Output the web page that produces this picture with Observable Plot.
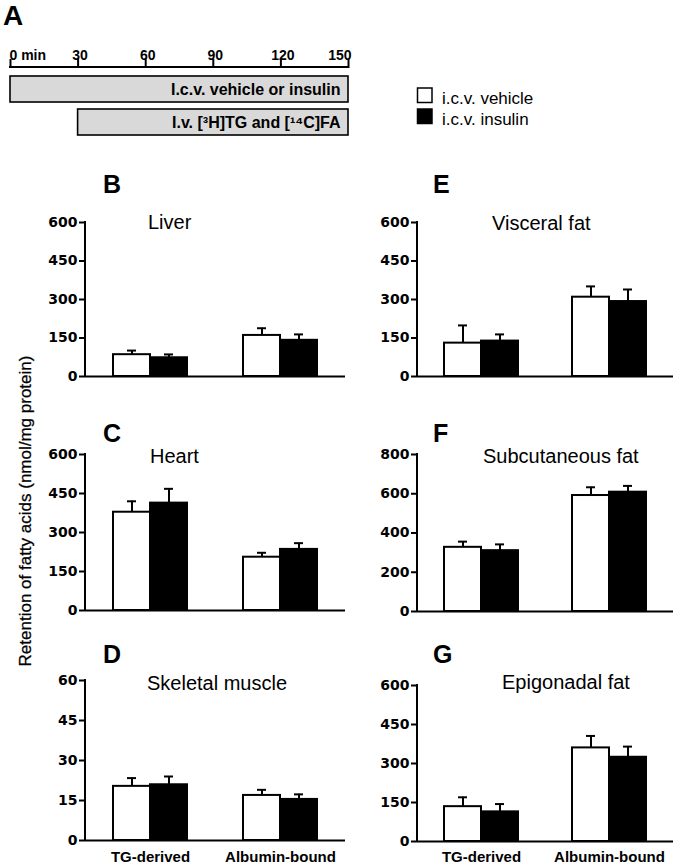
<!DOCTYPE html>
<html>
<head>
<meta charset="utf-8">
<script src="https://cdn.jsdelivr.net/npm/d3@7"></script>
<script src="https://cdn.jsdelivr.net/npm/@observablehq/plot@0.6"></script>
<style>
  body { margin: 0; background: #fff; }
  #fig { position: relative; width: 680px; height: 866px; overflow: hidden; background: #fff;
         font-family: "Liberation Sans", Arial, sans-serif; color: #000; }
  .pp { position: absolute; }
  .pp svg { overflow: visible; }
</style>
</head>
<body>
<div id="fig"></div>
<script>
// ---------- data ----------
const groups = ["TG-derived", "Albumin-bound"];
const treatments = ["i.c.v. vehicle", "i.c.v. insulin"];
// order inside each array: [TG vehicle, TG insulin, Albumin vehicle, Albumin insulin]
const liverMean = [85, 73, 160, 141];
const liverSem = [16, 13, 28, 23];
const heartMean = [378, 413, 205, 235];
const heartSem = [42, 55, 17, 24];
const muscleMean = [20.3, 20.9, 16.9, 15.4];
const muscleSem = [3.1, 3.1, 2.1, 1.9];
const visceralMean = [130, 138, 309, 292];
const visceralSem = [69, 26, 42, 47];
const subcutMean = [327, 310, 591, 608];
const subcutSem = [29, 32, 42, 32];
const epigonadalMean = [134, 114, 360, 324];
const epigonadalSem = [36, 30, 46, 41];

const ticks600 = [0, 150, 300, 450, 600];
const ticks800 = [0, 200, 400, 600, 800];
const ticks60 = [0, 15, 30, 45, 60];

const timeTicks = [0, 30, 60, 90, 120, 150];
const infusionLabels = ["I.c.v. vehicle or insulin", "I.v. [\u00B3H]TG and [\u00B9\u2074C]FA"];
const infusionStart = [0, 30];
const infusionEnd = [150, 150];

const yLabel = "Retention of fatty acids (nmol/mg protein)";

// ---------- layout ----------
const fig = document.getElementById("fig");
const FONT = '"Liberation Sans", Arial, sans-serif';

function rowsOf(mean, sem) {
  return mean.map((m, i) => ({group: groups[Math.floor(i / 2)], treatment: treatments[i % 2], mean: m, sem: sem[i]}));
}

const panels = [
  {letter: "B", title: "Liver", mean: liverMean, sem: liverSem, max: 600, ticks: ticks600, col: 0, yTop: 222, yBot: 376, tx: 148, ty: 229, ly: 193},
  {letter: "C", title: "Heart", mean: heartMean, sem: heartSem, max: 600, ticks: ticks600, col: 0, yTop: 454, yBot: 610, tx: 150, ty: 463, ly: 442},
  {letter: "D", title: "Skeletal muscle", mean: muscleMean, sem: muscleSem, max: 60, ticks: ticks60, col: 0, yTop: 680, yBot: 840, tx: 147, ty: 690, ly: 663, bottom: true},
  {letter: "E", title: "Visceral fat", mean: visceralMean, sem: visceralSem, max: 600, ticks: ticks600, col: 1, yTop: 222, yBot: 376, tx: 492, ty: 230, ly: 193},
  {letter: "F", title: "Subcutaneous fat", mean: subcutMean, sem: subcutSem, max: 800, ticks: ticks800, col: 1, yTop: 454, yBot: 611, tx: 483, ty: 463, ly: 442},
  {letter: "G", title: "Epigonadal fat", mean: epigonadalMean, sem: epigonadalSem, max: 600, ticks: ticks600, col: 1, yTop: 685, yBot: 841, tx: 502, ty: 689, ly: 663, bottom: true}
];

function place(node, left, top) {
  const d = document.createElement("div");
  d.className = "pp";
  d.style.left = left + "px";
  d.style.top = top + "px";
  d.appendChild(node);
  fig.appendChild(d);
}

// ---------- panel A: timeline ----------
{
  const rows = infusionLabels.map((l, i) => ({label: l, start: infusionStart[i], end: infusionEnd[i]}));
  const mt = 37, top = 30;
  const tickText = {frameAnchor: "top", dy: -17, fontSize: 14, fontWeight: "bold", fill: "#000"};
  const chart = Plot.plot({
    width: 360, height: 117, marginLeft: 10, marginRight: 12, marginTop: mt, marginBottom: 2,
    style: {fontFamily: FONT, background: "transparent"},
    x: {domain: [0, 150], axis: null},
    y: {domain: infusionLabels, paddingInner: 0.2, paddingOuter: 0.27, axis: null},
    marks: [
      Plot.barX(rows, {x1: "start", x2: "end", y: "label", fill: "#d9d9d9", stroke: "#000", strokeWidth: 1.6}),
      Plot.text(rows, {x: "end", y: "label", text: "label", textAnchor: "end", dx: -8, fontSize: 16, fontWeight: "bold", fill: "#000"}),
      Plot.axisX({anchor: "top", ticks: timeTicks, tickSize: 9, strokeWidth: 2, stroke: "#000", tickFormat: () => "", label: null}),
      Plot.text(timeTicks.slice(0, 1), {...tickText, x: d => d, text: d => d + " min", textAnchor: "start", dx: -1}),
      Plot.text(timeTicks.slice(1, -1), {...tickText, x: d => d, text: d => String(d), textAnchor: "middle", dx: 2}),
      Plot.text(timeTicks.slice(-1), {...tickText, x: d => d, text: d => String(d), textAnchor: "end", dx: 3})
    ]
  });
  const x = chart.scale("x");
  d3.select(chart).append("line")
    .attr("x1", x.apply(timeTicks[0]) - 1).attr("x2", x.apply(timeTicks[timeTicks.length - 1]) + 1)
    .attr("y1", mt).attr("y2", mt).attr("stroke", "#000").attr("stroke-width", 2);
  place(chart, 0, top);
}

// ---------- bar panels ----------
for (const p of panels) {
  const L = p.col === 0 ? {left: 0, width: 345, ml: 85} : {left: 340, width: 333, ml: 77};
  const mt = 12;
  const mb = p.bottom ? (866 - p.yBot) : 4;
  const h = (p.yBot - p.yTop) + mt + mb;
  const rows = rowsOf(p.mean, p.sem);
  const marks = [
    Plot.barY(rows, {fx: "group", x: "treatment", y: "mean", fill: "treatment", stroke: "#000", strokeWidth: 2}),
    Plot.ruleX(rows, {fx: "group", x: "treatment", y1: "mean", y2: d => d.mean + d.sem, stroke: "#000", strokeWidth: 2}),
    Plot.tickY(rows, {fx: "group", x: "treatment", y: d => d.mean + d.sem, stroke: "#000", strokeWidth: 2, insetLeft: 14, insetRight: 14}),
    Plot.ruleY([0], {stroke: "#000", strokeWidth: 2}),
    Plot.axisY({ticks: p.ticks, tickSize: 6, tickPadding: 2, strokeWidth: 2, stroke: "#000", fill: "#000",
                fontSize: 14, fontWeight: "bold", fontFamily: "DejaVu Sans", label: null, tickFormat: d => String(d)})
  ];
  if (p.bottom) {
    marks.push(Plot.axisFx({anchor: "bottom", tickSize: 0, tickPadding: 861 - 10.6 - p.yBot, fontSize: 15, fontWeight: "bold", fill: "#000", label: null}));
  }
  const chart = Plot.plot({
    width: L.width, height: h, marginLeft: L.ml, marginRight: 0, marginTop: mt, marginBottom: mb,
    style: {fontFamily: FONT, background: "transparent"},
    fx: p.bottom ? {domain: groups, padding: 0, label: null} : {domain: groups, padding: 0, axis: null, label: null},
    x: {domain: treatments, paddingInner: 0, paddingOuter: 0.72, axis: null},
    y: {domain: [0, p.max], label: null},
    color: {type: "ordinal", domain: treatments, range: ["#ffffff", "#000000"]},
    marks
  });
  const y = chart.scale("y");
  d3.select(chart).append("line")
    .attr("x1", L.ml).attr("x2", L.ml)
    .attr("y1", y.apply(p.max) - 1).attr("y2", y.apply(0) + 1)
    .attr("stroke", "#000").attr("stroke-width", 2);
  place(chart, L.left, p.yTop - mt);
}

// ---------- annotations (letters, titles, y label, legend) ----------
const ov = d3.select(fig).append("svg")
  .attr("width", 680).attr("height", 866)
  .style("position", "absolute").style("left", "0px").style("top", "0px")
  .style("pointer-events", "none")
  .style("font-family", FONT);

ov.append("text").attr("x", 3).attr("y", 25).attr("font-size", 28).attr("font-weight", "bold").text("A");

for (const p of panels) {
  const lx = p.col === 0 ? 103 : 433;
  ov.append("text").attr("x", lx).attr("y", p.ly).attr("font-size", 25).attr("font-weight", "bold").text(p.letter);
  ov.append("text").attr("x", p.tx).attr("y", p.ty).attr("font-size", 20).text(p.title);
}

ov.append("text")
  .attr("transform", "translate(31,511) rotate(-90)")
  .attr("text-anchor", "middle").attr("font-size", 17)
  .attr("stroke", "#000").attr("stroke-width", 0.25)
  .text(yLabel);

// legend
const legendColors = ["#ffffff", "#000000"];
treatments.forEach((t, i) => {
  const y0 = 88 + i * 21;
  ov.append("rect").attr("x", 417.5).attr("y", y0).attr("width", 14.5).attr("height", 14.5)
    .attr("fill", legendColors[i]).attr("stroke", "#000").attr("stroke-width", 1.5);
  ov.append("text").attr("x", 442).attr("y", y0 + 16).attr("font-size", 17).text(t);
});
</script>
</body>
</html>
